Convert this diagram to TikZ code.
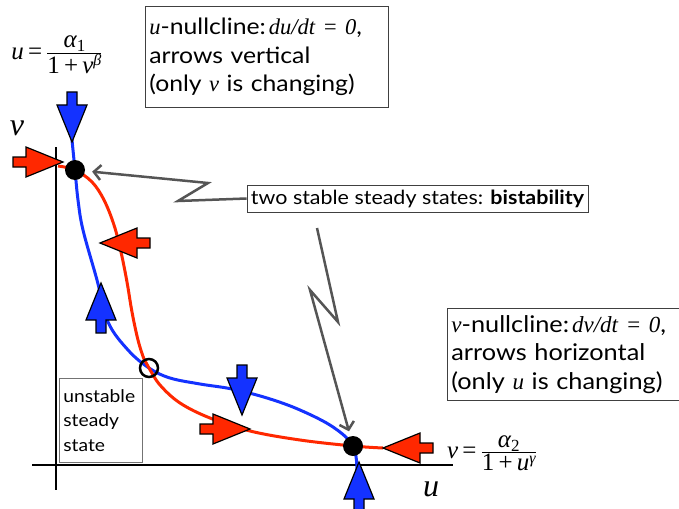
\documentclass[tikz,border=0pt]{standalone}
\usepackage{fontspec}
\setmainfont{Lato}[FakeStretch=1.1]
\newfontfamily\tms{Liberation Serif}
\usetikzlibrary{arrows.meta}
\definecolor{nblue}{RGB}{20,50,255}
\definecolor{nred}{RGB}{255,40,0}
\definecolor{cgray}{RGB}{85,85,85}
\tikzset{
  blockarr/.pic={\draw[line width=1.2pt,line join=miter,pic actions] (0,0) -- (-37,-15) -- (-37,-5) -- (-50,-5) -- (-50,5) -- (-37,5) -- (-37,15) -- cycle;},
  tbox/.style={draw=black!75, line width=0.8pt, align=left, inner xsep=4pt, inner ysep=2pt},
  conn/.style={draw=cgray, line width=2.5pt, line join=miter, -{Straight Barb[length=7pt,width=15pt]}},
  curve/.style={line width=3pt},
  axis/.style={line width=2.5pt},
  stable/.style={circle, fill=black, minimum size=20pt, inner sep=0pt},
  unstable/.style={circle, draw=black, line width=2.5pt, minimum size=18pt, inner sep=0pt},
  ttl/.style={font=\fontsize{32}{32}\selectfont\tms\itshape},
  formula/.style={inner sep=0pt}
}
\newcommand{\mi}[1]{{\tms\itshape #1}}
\newcommand{\tf}[1]{\mbox{\tms\itshape\fontsize{25}{25}\selectfont #1}}
\newcommand{\tup}[1]{\mbox{\tms\fontsize{25}{25}\selectfont #1}}
\newcommand{\ts}[1]{\mbox{\tms\itshape\fontsize{16}{16}\selectfont #1}}
\newcommand{\tsu}[1]{\mbox{\tms\fontsize{17}{17}\selectfont #1}}
\newcommand{\bigop}[1]{\mbox{\tms\fontsize{25}{25}\selectfont\,#1\,}}
\newcommand{\hfrac}[2]{\raisebox{3.5pt}{$\displaystyle\frac{#1}{#2}$}}
\begin{document}
\begin{tikzpicture}[x=1pt,y=-1pt]
\useasboundingbox (0,0) rectangle (679,508);
% axes
\draw[axis] (56,147) -- (56,490);
\draw[axis] (32,465) -- (453,465);
\node[ttl] (lv) at (17,128) {v};
\node[ttl] (lu) at (431,489) {u};
% u-nullcline (blue)
\draw[curve, nblue] plot[smooth, tension=0.6] coordinates {(72,140) (75,170) (78,200) (83,230) (97,280) (108,322) (128,350) (149,368) (170,378) (200,384) (232,389) (267,398) (300,410) (333,427) (353,446) (357,470)};
% v-nullcline (red)
\draw[curve, nred] plot[smooth, tension=0.6] coordinates {(58,166) (75,170) (92,182) (104,200) (114,225) (121,252) (127,282) (132,312) (138,340) (144,359) (149,368) (160,385) (180,403) (210,418) (250,431) (300,440) (353,446) (383,448)};
% block arrows
\pic[fill=nblue, rotate=-90] at (72,142) {blockarr};
\pic[fill=nred] at (63,162) {blockarr};
\pic[fill=nred, rotate=180] at (100,243) {blockarr};
\pic[fill=nblue, rotate=90] at (101,283) {blockarr};
\pic[fill=nblue, rotate=-90] at (242,415) {blockarr};
\pic[fill=nred] at (250,429) {blockarr};
\pic[fill=nred, rotate=180] at (383,448) {blockarr};
\pic[fill=nblue, rotate=90] at (359,462) {blockarr};
% steady states
\node[stable] (s1) at (75,170) {};
\node[stable] (s2) at (353,446) {};
\node[unstable] (us) at (149,368) {};
% formulas
\node[formula] (f1) at (57,55) {\tf{u}\bigop{=}\hfrac{\tf{α}\raisebox{-4pt}{\tsu{1}}}{\tup{1}\bigop{+}\tf{v}\raisebox{8pt}{\ts{β}}}};
\node[formula] (f2) at (492,453) {\tf{v}\bigop{=}\hfrac{\tf{α}\raisebox{-4pt}{\tsu{2}}}{\tup{1}\bigop{+}\tf{u}\raisebox{7pt}{\ts{γ}}}};
% text boxes
\node[tbox, anchor=north west, text width=235pt, minimum height=101pt, font=\fontsize{22.5}{28.5}\selectfont] (b1) at (145,6)
  {\mi{u}-nullcline:\hspace{3pt}\mi{du/dt = 0},\\arrows vertical\\(only \mi{v} is changing)};
\node[tbox, anchor=north west, text width=224pt, minimum height=92pt, font=\fontsize{23}{28.5}\selectfont] (b3) at (447,308)
  {\mi{v}-nullcline:\hspace{3pt}\mi{dv/dt = 0},\\arrows horizontal\\(only \mi{u} is changing)};
\node[tbox, minimum height=27pt, font=\fontsize{19.5}{22}\selectfont] (mid) at (417.5,198.5)
  {two stable steady states: \textbf{bistability}};
\node[tbox, draw=black!55, anchor=north west, text width=75pt, minimum height=84pt, font=\fontsize{17.5}{24.5}\selectfont] (b4) at (59,378)
  {unstable\\steady\\state};
% connectors
\coordinate (k1) at (178,201);
\coordinate (k2) at (208,183);
\coordinate (c2) at (317,228);
\coordinate (k3) at (338,322);
\coordinate (k4) at (310,290);
\draw[conn, shorten >=7pt] (mid.west) -- (k1) -- (k2) -- (s1);
\draw[conn, shorten >=5pt] (c2) -- (k3) -- (k4) -- (s2);
\end{tikzpicture}
\end{document}
